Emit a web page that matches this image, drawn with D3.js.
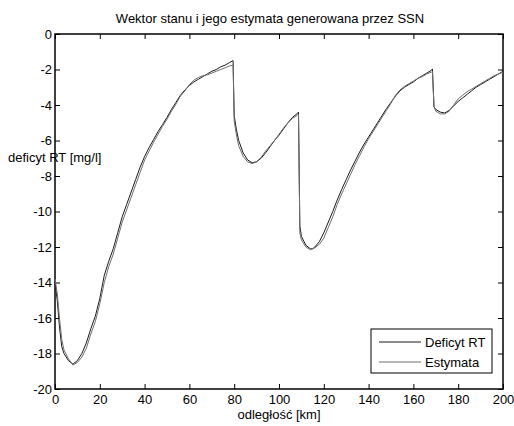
<!DOCTYPE html>
<html>
<head>
<meta charset="utf-8">
<script src="https://cdn.jsdelivr.net/npm/d3@7"></script>
<style>
  body { margin: 0; background: #fff; }
  svg { font-family: "Liberation Sans", Arial, sans-serif; }
</style>
</head>
<body>
<svg width="514" height="426"></svg>
<script>
const distance = [0, 1, 2, 3, 4, 6, 8, 10, 12, 14, 16, 18, 20, 22, 24, 26, 28, 30, 32, 34, 36, 38, 40, 42, 44, 46, 48, 50, 52, 54, 56, 58, 60, 62, 64, 66, 68, 70, 72, 74, 76, 78, 79.5, 80, 81, 82, 84, 86, 88, 90, 92, 94, 96, 98, 100, 102, 104, 106, 108, 108.7, 109.3, 110, 112, 114, 115, 116, 118, 120, 122, 124, 126, 128, 130, 132, 134, 136, 138, 140, 142, 144, 146, 148, 150, 152, 154, 156, 158, 160, 162, 164, 166, 168, 168.5, 169.2, 170, 172, 174, 176, 178, 180, 182, 184, 186, 188, 190, 192, 194, 196, 198, 200];

const deficytRT = [-14.0, -15.0, -16.5, -17.6, -18.0, -18.4, -18.6, -18.4, -18.0, -17.4, -16.6, -15.9, -14.9, -13.6, -12.8, -12.1, -11.2, -10.3, -9.6, -8.9, -8.2, -7.5, -6.9, -6.4, -5.95, -5.5, -5.1, -4.7, -4.25, -3.85, -3.45, -3.15, -2.9, -2.7, -2.55, -2.4, -2.25, -2.1, -2.0, -1.85, -1.75, -1.6, -1.5, -4.6, -5.4, -6.0, -6.7, -7.1, -7.25, -7.2, -7.0, -6.7, -6.35, -6.0, -5.7, -5.35, -5.0, -4.7, -4.5, -4.4, -10.8, -11.4, -11.9, -12.1, -12.1, -12.0, -11.7, -11.2, -10.6, -10.0, -9.35, -8.75, -8.2, -7.65, -7.15, -6.65, -6.2, -5.8, -5.4, -5.0, -4.6, -4.2, -3.85, -3.5, -3.2, -3.0, -2.85, -2.7, -2.5, -2.35, -2.2, -2.05, -1.97, -4.1, -4.25, -4.4, -4.45, -4.3, -4.05, -3.8, -3.6, -3.4, -3.2, -3.0, -2.85, -2.7, -2.55, -2.4, -2.25, -2.1];

const estymata = [-13.8, -14.6, -16.0, -17.2, -17.8, -18.3, -18.65, -18.5, -18.2, -17.7, -16.9, -16.2, -15.2, -14.0, -13.1, -12.4, -11.5, -10.6, -9.9, -9.2, -8.5, -7.8, -7.1, -6.6, -6.1, -5.65, -5.2, -4.8, -4.35, -3.95, -3.5, -3.2, -2.85, -2.6, -2.45, -2.35, -2.3, -2.2, -2.1, -2.0, -1.9, -1.8, -1.75, -4.9, -5.7, -6.3, -6.9, -7.2, -7.3, -7.2, -6.95, -6.6, -6.3, -6.0, -5.65, -5.3, -5.0, -4.75, -4.6, -4.5, -11.2, -11.6, -12.0, -12.15, -12.1, -12.05, -11.85, -11.5, -10.9, -10.3, -9.6, -9.0, -8.45, -7.9, -7.35, -6.85, -6.35, -5.9, -5.5, -5.1, -4.7, -4.3, -3.9, -3.45, -3.15, -2.95, -2.8, -2.65, -2.5, -2.4, -2.25, -2.15, -2.1, -4.1, -4.35, -4.5, -4.5, -4.35, -4.0, -3.65, -3.45, -3.25, -3.1, -2.95, -2.8, -2.65, -2.5, -2.35, -2.25, -2.15];

const xTicks = [0, 20, 40, 60, 80, 100, 120, 140, 160, 180, 200];
const yTicks = [0, -2, -4, -6, -8, -10, -12, -14, -16, -18, -20];
const seriesNames = ["Deficyt RT", "Estymata"];
const seriesColors = ["#1a1a1a", "#6e6e6e"];

const svg = d3.select("svg"),
  margin = { top: 34, right: 11, bottom: 37, left: 55 },
  width = +svg.attr("width") - margin.left - margin.right,
  height = +svg.attr("height") - margin.top - margin.bottom;

const g = svg.append("g")
  .attr("transform", "translate(" + margin.left + "," + margin.top + ")");

const x = d3.scaleLinear().domain([0, 200]).range([0, width]);
const y = d3.scaleLinear().domain([-20, 0]).range([height, 0]);

// matlab style: ticks inward on all four sides
const tickLen = 5;
g.append("g")
  .attr("transform", `translate(0,${height})`)
  .call(d3.axisBottom(x).tickValues(xTicks).tickSizeInner(-tickLen).tickSizeOuter(0).tickPadding(6));
g.append("g")
  .call(d3.axisTop(x).tickValues(xTicks).tickSizeInner(-tickLen).tickSizeOuter(0).tickFormat(""));
g.append("g")
  .call(d3.axisLeft(y).tickValues(yTicks).tickSizeInner(-tickLen).tickSizeOuter(0).tickPadding(3).tickFormat(d => String(d)));
g.append("g")
  .attr("transform", `translate(${width},0)`)
  .call(d3.axisRight(y).tickValues(yTicks).tickSizeInner(-tickLen).tickSizeOuter(0).tickFormat(""));

g.selectAll(".domain").remove();
g.selectAll(".tick line").attr("stroke", "#000");
g.selectAll(".tick text").attr("font-size", 13).attr("fill", "#000")
  .attr("font-family", "Liberation Sans, Arial, sans-serif");

g.append("rect")
  .attr("width", width)
  .attr("height", height)
  .attr("fill", "none")
  .attr("stroke", "#000")
  .attr("stroke-width", 1.5);

const seriesData = [deficytRT, estymata];

const line = d3.line()
  .x((d, i) => x(distance[i]))
  .y(d => y(d));

g.selectAll(".series")
  .data(seriesData)
  .join("path")
  .attr("class", "series")
  .attr("fill", "none")
  .attr("stroke", (d, i) => seriesColors[i])
  .attr("stroke-width", 1)
  .attr("stroke-linejoin", "round")
  .attr("d", line);

// title and labels
svg.append("text")
  .attr("x", 270)
  .attr("y", 23)
  .attr("text-anchor", "middle")
  .attr("font-size", 13)
  .text("Wektor stanu i jego estymata generowana przez SSN");

svg.append("text")
  .attr("x", margin.left + width / 2)
  .attr("y", 419)
  .attr("text-anchor", "middle")
  .attr("font-size", 13)
  .text("odległość [km]");

svg.append("text")
  .attr("x", 8)
  .attr("y", 162)
  .attr("font-size", 13)
  .text("deficyt RT [mg/l]");

// legend
const legend = svg.append("g").attr("transform", "translate(371,329)");
legend.append("rect")
  .attr("width", 121)
  .attr("height", 44)
  .attr("fill", "#fff")
  .attr("stroke", "#000")
  .attr("stroke-width", 1);

seriesNames.forEach((name, i) => {
  const row = legend.append("g").attr("transform", `translate(0,${13 + i * 20})`);
  row.append("line")
    .attr("x1", 8).attr("x2", 50)
    .attr("stroke", seriesColors[i])
    .attr("stroke-width", 1);
  row.append("text")
    .attr("x", 54)
    .attr("dy", "0.35em")
    .attr("font-size", 13)
    .text(name);
});
</script>
</body>
</html>
